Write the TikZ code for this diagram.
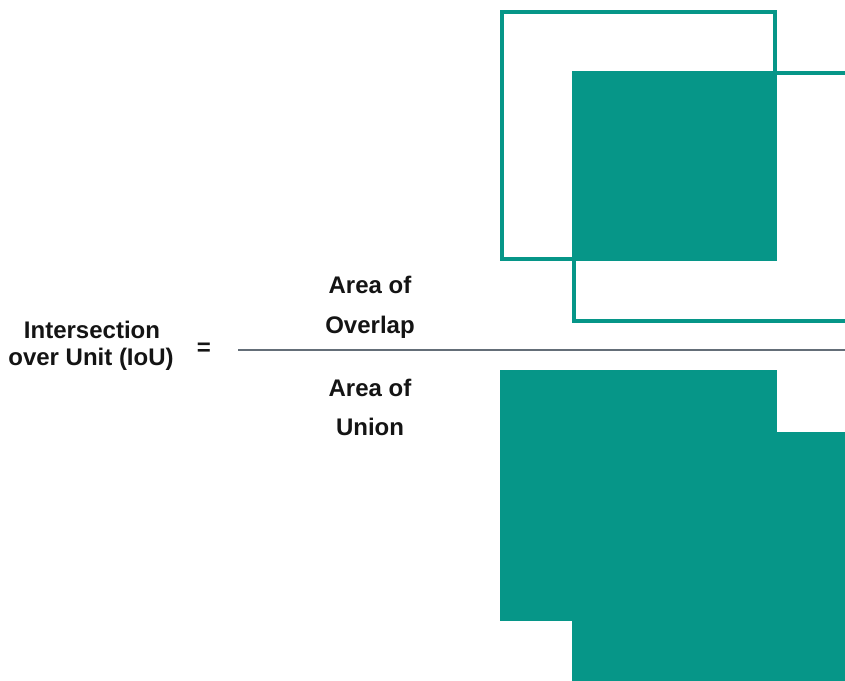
\documentclass[tikz,border=0pt]{standalone}
\usepackage{fontspec}
\setmainfont{Liberation Sans}
\definecolor{teal1}{RGB}{6,150,136}
\definecolor{rule1}{RGB}{100,110,120}
\tikzset{
  lbl/.style={font=\bfseries\fontsize{24}{28}\selectfont, text=black!92, inner sep=0pt, anchor=base},
  outlinebox/.style={draw=teal1, line width=4pt},
  fillbox/.style={fill=teal1, draw=none}
}
\begin{document}
\begin{tikzpicture}[x=1pt,y=-1pt]
\useasboundingbox (0,0) rectangle (845,680);
\clip (0,0) rectangle (845,680);
% overlap illustration
\draw[outlinebox] (502,12) rectangle (775,259);
\draw[outlinebox] (574,73) rectangle (860,321);
\fill[fillbox] (572,71) rectangle (777,261);
% union illustration
\fill[fillbox] (500,370) rectangle (777,621);
\fill[fillbox] (572,432) rectangle (860,690);
% fraction bar
\coordinate (barL) at (238,350);
\coordinate (barR) at (845,350);
\draw[rule1, line width=2.5pt] (barL) -- (barR);
% texts
\node[lbl] (iou1) at (92,338.3) {Intersection};
\node[lbl] (iou2) at (91,365) {over Unit (IoU)};
\node[lbl, anchor=center] (eq) at (204,349) {=};
\node[lbl] (ao1) at (370,293.3) {Area of};
\node[lbl] (ao2) at (370,333.3) {Overlap};
\node[lbl] (au1) at (370,396.7) {Area of};
\node[lbl] (au2) at (370,435) {Union};
\end{tikzpicture}
\end{document}
